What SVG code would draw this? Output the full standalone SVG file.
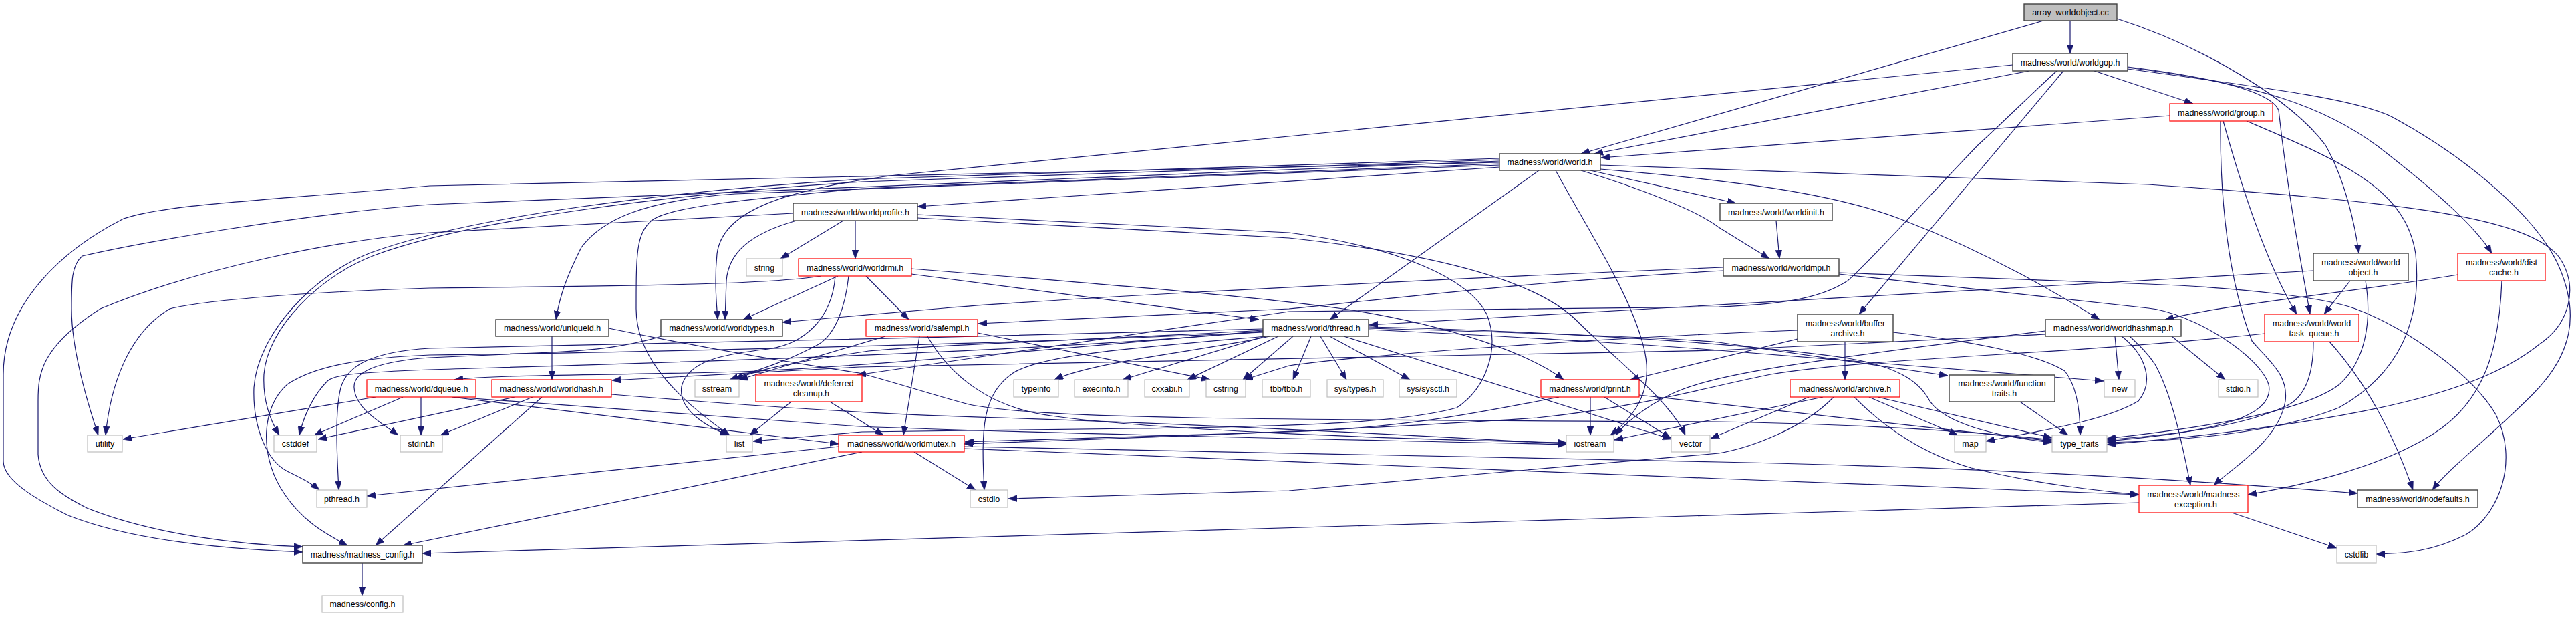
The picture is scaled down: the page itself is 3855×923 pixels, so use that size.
<svg xmlns="http://www.w3.org/2000/svg" width="3855" height="923" viewBox="0 0 3855 923">
<style>
.e{fill:none;stroke:#191970;stroke-width:1.2;marker-end:url(#ah)}
.k{fill:#ffffff;stroke:#404040;stroke-width:1.4}
.r{fill:#ffffff;stroke:#ff0000;stroke-width:1.2}
.g{fill:#ffffff;stroke:#bfbfbf;stroke-width:1.2}
.f{fill:#bfbfbf;stroke:#404040;stroke-width:1.4}
text{font-family:"Liberation Sans",Arial,Helvetica,sans-serif;font-size:12.5px;fill:#000000;text-anchor:middle}
</style>
<defs>
<marker id="ah" markerUnits="userSpaceOnUse" markerWidth="13" markerHeight="10" viewBox="0 0 13 10" refX="13" refY="5" orient="auto">
<path d="M0,0 L13,5 L0,10 z" fill="#191970" stroke="#191970" stroke-width="0.5"/>
</marker>
</defs>
<rect x="0" y="0" width="3855" height="923" fill="#ffffff"/>
<g id="edges">
<path class="e" d="M3098,31 L3098,80"/>
<path class="e" d="M3058,31 L2366,230"/>
<path class="e" d="M3168,28 C3300,70 3430,150 3480,217 C3510,270 3525,340 3530,379"/>
<path class="e" d="M3037,106 L2386,230"/>
<path class="e" d="M3134,106 L3282,155"/>
<path class="e" d="M3184,101 C3380,125 3480,160 3560,220 C3650,290 3705,340 3729,379"/>
<path class="e" d="M3184,103 C3420,135 3530,150 3580,175 C3700,240 3800,330 3830,400 C3860,470 3850,530 3790,590 C3720,660 3665,700 3640,733"/>
<path class="e" d="M3184,100 C3330,118 3400,140 3410,165 C3425,300 3445,400 3457,470"/>
<path class="e" d="M3012,97 L1340,262 C1160,285 1080,320 1073,380 C1069,420 1072,450 1074,478"/>
<path class="e" d="M3088,106 L2782,470"/>
<path class="e" d="M3078,106 C3030,150 2990,190 2960,217 C2880,300 2800,390 2765,420 C2720,450 2650,456 2572,459 L1929,466 L1283,561"/>
<path class="e" d="M3247,173 L2396,236"/>
<path class="e" d="M3327,181 C3360,300 3395,400 3437,470"/>
<path class="e" d="M3323,181 C3322,300 3335,420 3370,510 C3395,540 3425,560 3420,600 C3410,660 3340,700 3313,726"/>
<path class="e" d="M3362,181 C3500,240 3600,280 3615,380 C3625,480 3590,560 3500,610 C3400,650 3250,660 3153,662"/>
<path class="e" d="M3517,420 L3478,470"/>
<path class="e" d="M3540,420 C3550,480 3540,540 3501,575 C3450,615 3300,640 3153,656"/>
<path class="e" d="M3462,405 L2049,486"/>
<path class="e" d="M3678,411 C3500,440 3330,455 3240,478"/>
<path class="e" d="M3744,420 C3740,520 3720,600 3640,650 C3560,700 3450,725 3364,740"/>
<path class="e" d="M2244,250 L1373,309"/>
<path class="e" d="M2244,247 L1100,290 C960,300 900,330 870,370 C850,410 838,440 832,478"/>
<path class="e" d="M2303,255 L1990,478"/>
<path class="e" d="M2328,255 C2380,350 2440,440 2460,520 C2475,580 2450,620 2410,651"/>
<path class="e" d="M2380,255 L2598,304"/>
<path class="e" d="M2366,255 C2450,280 2540,315 2572,340 L2648,387"/>
<path class="e" d="M2395,253 C2600,270 2750,290 2850,330 C2980,380 3080,440 3142,478"/>
<path class="e" d="M2395,247 L3215,276 C3560,300 3780,320 3830,385 C3860,430 3845,485 3800,515 C3720,580 3560,630 3153,665"/>
<path class="e" d="M2244,243 L643,278 C400,300 250,305 185,327 C100,370 5,450 5,560 L5,690 C5,720 60,750 102,771 C200,810 350,822 453,826"/>
<path class="e" d="M2244,241 L643,306 C450,320 200,365 123,383 C107,397 107,420 107,462 C107,520 130,600 147,651"/>
<path class="e" d="M2244,239 L1290,272 C1000,290 700,330 560,382 C480,412 400,490 395,560 C393,600 405,630 418,651"/>
<path class="e" d="M2244,237 L1290,268 C1000,285 700,325 555,378 C470,410 385,500 380,580 C378,640 400,690 430,705 C450,715 465,722 478,733"/>
<path class="e" d="M2244,245 L1290,282 C1100,300 1000,310 975,330 C952,350 952,380 952,462 C952,520 990,580 1092,651"/>
<path class="e" d="M1262,330 L1168,387"/>
<path class="e" d="M1280,330 L1280,387"/>
<path class="e" d="M1192,330 C1120,350 1090,380 1087,420 L1085,478"/>
<path class="e" d="M1187,319 L643,348 C500,360 300,400 150,462 C60,520 57,560 57,600 L57,680 C60,720 90,740 130,760 C230,800 360,815 453,818"/>
<path class="e" d="M1373,321 L1929,348 C2100,370 2200,420 2225,470 C2245,520 2225,580 2180,610 C2100,632 1950,638 1700,641 L1290,646 L1127,660"/>
<path class="e" d="M1373,326 L1929,356 C2150,380 2300,420 2360,480 C2420,540 2500,600 2522,651"/>
<path class="e" d="M2658,330 L2663,387"/>
<path class="e" d="M2579,400 C2200,415 1600,445 1413,461 L1171,482"/>
<path class="e" d="M2579,405 C2300,420 2100,445 1929,462 L1464,484"/>
<path class="e" d="M2752,408 L3215,425 C3350,430 3480,445 3525,462 C3600,490 3700,560 3735,620 C3770,690 3740,770 3690,800 C3640,825 3600,828 3556,829"/>
<path class="e" d="M2752,410 L3215,461 C3280,468 3380,530 3395,575 C3405,620 3330,645 3153,660"/>
<path class="e" d="M1254,413 L1112,478"/>
<path class="e" d="M1270,413 C1265,460 1250,500 1225,515 C1180,540 1130,555 1092,568"/>
<path class="e" d="M1229,413 C1150,425 1000,427 643,431 C450,437 300,450 254,462 C190,500 165,580 158,651"/>
<path class="e" d="M1296,413 L1360,478"/>
<path class="e" d="M1364,410 L1884,478"/>
<path class="e" d="M1364,402 C1650,425 1900,445 2030,465 C2180,490 2290,530 2340,568"/>
<path class="e" d="M1250,413 C1245,480 1200,515 1150,522 C1080,530 1030,540 1020,578 C1015,610 1050,635 1090,651"/>
<path class="e" d="M1325,503 L1106,568"/>
<path class="e" d="M1463,498 L1811,568"/>
<path class="e" d="M1376,503 L1352,651"/>
<path class="e" d="M1388,503 C1420,560 1480,610 1573,622 C1700,640 2000,655 2344,662"/>
<path class="e" d="M1890,495 C1600,520 1300,548 1110,556 C900,562 750,560 680,568"/>
<path class="e" d="M1900,503 C1800,525 1640,540 1578,568"/>
<path class="e" d="M1893,503 L1680,568"/>
<path class="e" d="M1913,503 L1777,568"/>
<path class="e" d="M1935,503 L1860,568"/>
<path class="e" d="M1962,503 L1935,568"/>
<path class="e" d="M1976,503 L2015,568"/>
<path class="e" d="M1990,503 L2110,568"/>
<path class="e" d="M2011,503 L2501,657"/>
<path class="e" d="M2048,491 C2300,498 2500,505 2572,512 L2915,562"/>
<path class="e" d="M2048,493 C2300,505 2500,518 2572,524 L3148,570"/>
<path class="e" d="M2048,489 C2300,495 2600,512 2760,535 C2840,548 2870,570 2885,595 C2900,625 2960,650 3071,662"/>
<path class="e" d="M1895,503 C1700,520 1560,530 1516,558 C1470,590 1468,640 1473,733"/>
<path class="e" d="M1890,494 C1650,508 1400,515 1300,525 C1200,540 1140,550 1099,568"/>
<path class="e" d="M1890,496 C1500,530 900,545 643,553 C540,557 500,560 490,570 C470,590 455,620 448,651"/>
<path class="e" d="M1890,492 C1500,505 800,515 643,521 C560,526 520,545 510,580 C500,620 505,690 507,733"/>
<path class="e" d="M1890,497 C1500,515 900,528 643,531 C540,535 470,548 430,575 C390,610 390,680 420,730 C450,780 490,800 520,816"/>
<path class="e" d="M826,503 L826,568"/>
<path class="e" d="M911,491 C1050,520 1200,545 1286,558 C1350,575 1400,592 1450,605 C1550,625 1800,628 2572,631 C2800,635 2950,645 3071,658"/>
<path class="e" d="M990,503 C950,515 900,525 800,528 L643,535 C570,540 528,555 530,580 C532,612 570,632 596,651"/>
<path class="e" d="M797,594 L659,651"/>
<path class="e" d="M770,594 L476,657"/>
<path class="e" d="M811,594 L562,816"/>
<path class="e" d="M915,590 C1100,605 1300,620 1500,625 C1800,635 2100,650 2344,664"/>
<path class="e" d="M562,594 L184,657"/>
<path class="e" d="M603,594 L470,651"/>
<path class="e" d="M630,594 L630,651"/>
<path class="e" d="M676,594 L1255,664"/>
<path class="e" d="M680,594 L1286,638 C1600,650 2000,657 2344,665"/>
<path class="e" d="M1184,601 L1122,651"/>
<path class="e" d="M1242,601 L1322,651"/>
<path class="e" d="M1255,668 L549,742"/>
<path class="e" d="M1290,676 L603,816"/>
<path class="e" d="M1368,676 L1460,733"/>
<path class="e" d="M1443,668 L2572,691 C3000,700 3300,720 3528,738"/>
<path class="e" d="M1443,671 L2572,716 L3201,740"/>
<path class="e" d="M2380,594 L2380,651"/>
<path class="e" d="M2401,594 L2500,655"/>
<path class="e" d="M2333,594 C2200,620 2100,640 1929,646 L1444,661"/>
<path class="e" d="M2453,591 L3071,660"/>
<path class="e" d="M2761,511 L2761,568"/>
<path class="e" d="M2833,497 C2950,510 3050,530 3090,555 C3110,580 3113,620 3113,651"/>
<path class="e" d="M2690,507 L2440,568"/>
<path class="e" d="M2690,494 C2400,505 2050,530 1929,547 L1862,568"/>
<path class="e" d="M2797,594 L2930,651"/>
<path class="e" d="M2810,594 L3071,655"/>
<path class="e" d="M2707,594 L2560,656"/>
<path class="e" d="M2728,594 L2416,658"/>
<path class="e" d="M2744,594 C2700,640 2620,670 2572,678 L1929,734 L1509,746"/>
<path class="e" d="M2775,594 C2820,640 2880,680 2950,700 C3050,725 3150,735 3201,740"/>
<path class="e" d="M3023,601 L3095,651"/>
<path class="e" d="M3165,503 L3171,568"/>
<path class="e" d="M3175,503 C3210,530 3225,570 3200,600 C3150,630 3050,645 2972,660"/>
<path class="e" d="M3187,503 C3205,520 3215,530 3225,545 C3250,590 3265,660 3278,726"/>
<path class="e" d="M3250,503 L3330,568"/>
<path class="e" d="M3061,500 L2572,524 L1286,549 L916,569"/>
<path class="e" d="M3061,495 C2700,540 2560,560 2500,590 C2460,610 2430,635 2418,651"/>
<path class="e" d="M3486,511 C3530,560 3575,630 3611,733"/>
<path class="e" d="M3462,511 C3462,560 3450,595 3420,608 C3350,640 3250,650 3153,658"/>
<path class="e" d="M3389,499 C3100,530 2800,535 2650,560 C2550,580 2450,610 2300,625 C2000,645 1700,655 1443,664"/>
<path class="e" d="M3201,752 L632,828"/>
<path class="e" d="M3340,767 L3497,820"/>
<path class="e" d="M542,842 L542,891"/>
</g>
<g id="n_ao"><rect class="f" x="3029" y="6" width="139" height="25"/><text x="3098.5" y="23">array_worldobject.cc</text></g>
<g id="n_worldgop"><rect class="k" x="3012" y="80" width="172" height="26"/><text x="3098" y="97.5">madness/world/worldgop.h</text></g>
<g id="n_group"><rect class="r" x="3247" y="155" width="154" height="26"/><text x="3324" y="172.5">madness/world/group.h</text></g>
<g id="n_world"><rect class="k" x="2244" y="230" width="151" height="25"/><text x="2319.5" y="247">madness/world/world.h</text></g>
<g id="n_worldprofile"><rect class="k" x="1187" y="304" width="186" height="26"/><text x="1280" y="321.5">madness/world/worldprofile.h</text></g>
<g id="n_worldinit"><rect class="k" x="2574" y="304" width="168" height="26"/><text x="2658" y="321.5">madness/world/worldinit.h</text></g>
<g id="n_string"><rect class="g" x="1117" y="387" width="54" height="26"/><text x="1144" y="404.5">string</text></g>
<g id="n_worldrmi"><rect class="r" x="1195" y="387" width="169" height="26"/><text x="1279.5" y="404.5">madness/world/worldrmi.h</text></g>
<g id="n_worldmpi"><rect class="k" x="2579" y="387" width="173" height="26"/><text x="2665.5" y="404.5">madness/world/worldmpi.h</text></g>
<g id="n_world_object"><rect class="k" x="3462" y="379" width="142" height="41"/><text x="3533" y="396.5">madness/world/world</text><text x="3533" y="411.5">_object.h</text></g>
<g id="n_dist_cache"><rect class="r" x="3678" y="379" width="131" height="41"/><text x="3743.5" y="396.5">madness/world/dist</text><text x="3743.5" y="411.5">_cache.h</text></g>
<g id="n_uniqueid"><rect class="k" x="742" y="478" width="169" height="25"/><text x="826.5" y="495">madness/world/uniqueid.h</text></g>
<g id="n_worldtypes"><rect class="k" x="989" y="478" width="182" height="25"/><text x="1080" y="495">madness/world/worldtypes.h</text></g>
<g id="n_safempi"><rect class="r" x="1296" y="478" width="167" height="25"/><text x="1379.5" y="495">madness/world/safempi.h</text></g>
<g id="n_thread"><rect class="k" x="1890" y="478" width="158" height="25"/><text x="1969" y="495">madness/world/thread.h</text></g>
<g id="n_buffer_archive"><rect class="k" x="2690" y="470" width="143" height="41"/><text x="2761.5" y="487.5">madness/world/buffer</text><text x="2761.5" y="502.5">_archive.h</text></g>
<g id="n_worldhashmap"><rect class="k" x="3061" y="478" width="203" height="25"/><text x="3162.5" y="495">madness/world/worldhashmap.h</text></g>
<g id="n_world_task_queue"><rect class="r" x="3389" y="470" width="141" height="41"/><text x="3459.5" y="487.5">madness/world/world</text><text x="3459.5" y="502.5">_task_queue.h</text></g>
<g id="n_dqueue"><rect class="r" x="549" y="568" width="163" height="26"/><text x="630.5" y="585.5">madness/world/dqueue.h</text></g>
<g id="n_worldhash"><rect class="r" x="736" y="568" width="179" height="26"/><text x="825.5" y="585.5">madness/world/worldhash.h</text></g>
<g id="n_sstream"><rect class="g" x="1040" y="568" width="66" height="26"/><text x="1073" y="585.5">sstream</text></g>
<g id="n_deferred_cleanup"><rect class="r" x="1131" y="561" width="159" height="40"/><text x="1210.5" y="578">madness/world/deferred</text><text x="1210.5" y="593">_cleanup.h</text></g>
<g id="n_typeinfo"><rect class="g" x="1517" y="568" width="67" height="26"/><text x="1550.5" y="585.5">typeinfo</text></g>
<g id="n_execinfo"><rect class="g" x="1608" y="568" width="80" height="26"/><text x="1648" y="585.5">execinfo.h</text></g>
<g id="n_cxxabi"><rect class="g" x="1713" y="568" width="67" height="26"/><text x="1746.5" y="585.5">cxxabi.h</text></g>
<g id="n_cstring"><rect class="g" x="1805" y="568" width="59" height="26"/><text x="1834.5" y="585.5">cstring</text></g>
<g id="n_tbb"><rect class="g" x="1889" y="568" width="72" height="26"/><text x="1925" y="585.5">tbb/tbb.h</text></g>
<g id="n_systypes"><rect class="g" x="1986" y="568" width="84" height="26"/><text x="2028" y="585.5">sys/types.h</text></g>
<g id="n_syssysctl"><rect class="g" x="2094" y="568" width="86" height="26"/><text x="2137" y="585.5">sys/sysctl.h</text></g>
<g id="n_print"><rect class="r" x="2306" y="568" width="147" height="26"/><text x="2379.5" y="585.5">madness/world/print.h</text></g>
<g id="n_archive"><rect class="r" x="2679" y="568" width="164" height="26"/><text x="2761" y="585.5">madness/world/archive.h</text></g>
<g id="n_function_traits"><rect class="k" x="2917" y="561" width="158" height="40"/><text x="2996" y="578">madness/world/function</text><text x="2996" y="593">_traits.h</text></g>
<g id="n_new"><rect class="g" x="3149" y="568" width="46" height="26"/><text x="3172" y="585.5">new</text></g>
<g id="n_stdio"><rect class="g" x="3320" y="568" width="59" height="26"/><text x="3349.5" y="585.5">stdio.h</text></g>
<g id="n_utility"><rect class="g" x="131" y="651" width="52" height="25"/><text x="157" y="668">utility</text></g>
<g id="n_cstddef"><rect class="g" x="410" y="651" width="64" height="25"/><text x="442" y="668">cstddef</text></g>
<g id="n_stdint"><rect class="g" x="599" y="651" width="63" height="25"/><text x="630.5" y="668">stdint.h</text></g>
<g id="n_list"><rect class="g" x="1087" y="651" width="39" height="25"/><text x="1106.5" y="668">list</text></g>
<g id="n_worldmutex"><rect class="r" x="1255" y="651" width="188" height="25"/><text x="1349" y="668">madness/world/worldmutex.h</text></g>
<g id="n_iostream"><rect class="g" x="2344" y="651" width="71" height="25"/><text x="2379.5" y="668">iostream</text></g>
<g id="n_vector"><rect class="g" x="2501" y="651" width="58" height="25"/><text x="2530" y="668">vector</text></g>
<g id="n_map"><rect class="g" x="2925" y="651" width="47" height="25"/><text x="2948.5" y="668">map</text></g>
<g id="n_type_traits"><rect class="g" x="3071" y="651" width="82" height="25"/><text x="3112" y="668">type_traits</text></g>
<g id="n_pthread"><rect class="g" x="474" y="733" width="75" height="26"/><text x="511.5" y="750.5">pthread.h</text></g>
<g id="n_cstdio"><rect class="g" x="1452" y="733" width="56" height="26"/><text x="1480" y="750.5">cstdio</text></g>
<g id="n_madness_exception"><rect class="r" x="3201" y="726" width="163" height="41"/><text x="3282.5" y="743.5">madness/world/madness</text><text x="3282.5" y="758.5">_exception.h</text></g>
<g id="n_nodefaults"><rect class="k" x="3528" y="733" width="180" height="26"/><text x="3618" y="750.5">madness/world/nodefaults.h</text></g>
<g id="n_madness_config"><rect class="k" x="453" y="816" width="179" height="26"/><text x="542.5" y="833.5">madness/madness_config.h</text></g>
<g id="n_cstdlib"><rect class="g" x="3497" y="816" width="59" height="26"/><text x="3526.5" y="833.5">cstdlib</text></g>
<g id="n_config"><rect class="g" x="482" y="891" width="121" height="25"/><text x="542.5" y="908">madness/config.h</text></g>
</svg>
